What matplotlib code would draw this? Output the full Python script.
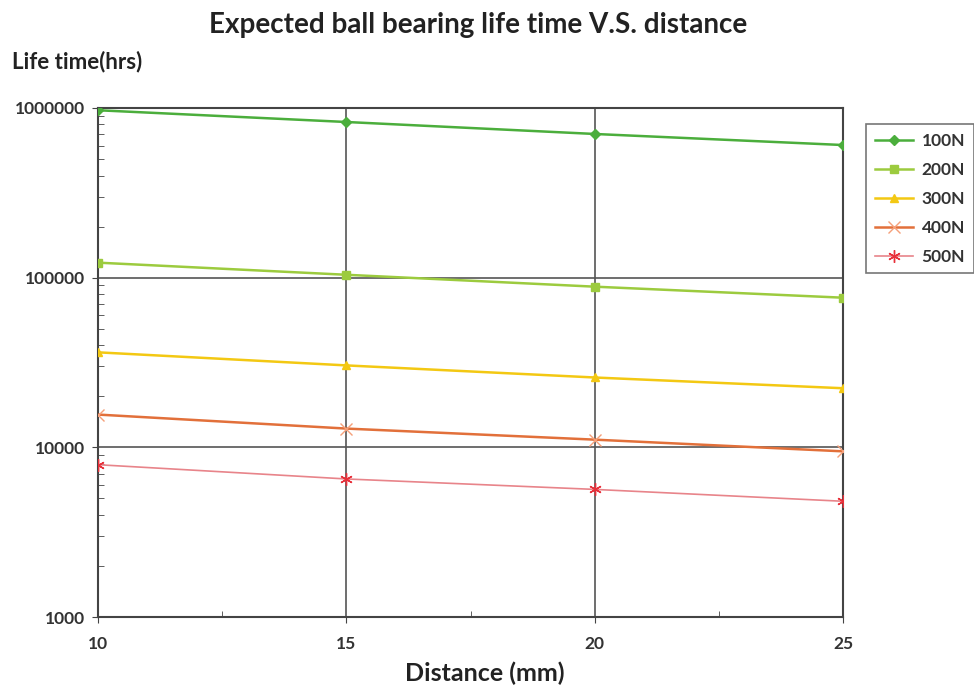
import matplotlib
matplotlib.use("Agg")
import matplotlib.pyplot as plt
from matplotlib.ticker import FixedLocator, NullFormatter, LogLocator

plt.rcParams['font.family'] = ['Lato', 'DejaVu Sans']

distance = [10, 15, 20, 25]
life_100n = [970000, 827000, 703000, 605000]
life_200n = [122600, 104000, 88500, 76200]
life_300n = [36300, 30400, 25800, 22300]
life_400n = [15600, 12900, 11100, 9470]
life_500n = [7900, 6510, 5650, 4810]

series = [
    ("100N", life_100n, "#4bae3c", "D", "#4bae3c", 5),
    ("200N", life_200n, "#9ccb3e", "s", "#9ccb3e", 6),
    ("300N", life_300n, "#f3c813", "^", "#f3c813", 6),
    ("400N", life_400n, "#e2703a", "x", "#f5a07a", 8),
    ("500N", life_500n, "#e8848a", (6, 2, 0), "#e8303a", 9),
]

fig = plt.figure(figsize=(9.74, 6.91), dpi=100)
ax = fig.add_axes([98 / 974, 1 - 617 / 691, (843 - 98) / 974, (617 - 108) / 691])

for name, vals, col, mk, mcol, ms in series:
    lw = 1.2 if name == "500N" else 1.8
    ax.plot(distance, vals, color=col, lw=lw, marker=mk, markersize=ms,
            markerfacecolor=mcol, markeredgecolor=mcol, label=name, zorder=3)

ax.set_yscale("log")
ax.set_ylim(1000, 1000000)
ax.set_xlim(10, 25)
ax.xaxis.set_major_locator(FixedLocator([10, 15, 20, 25]))
ax.xaxis.set_minor_locator(FixedLocator([12.5, 17.5, 22.5]))
ax.yaxis.set_major_locator(FixedLocator([1000, 10000, 100000, 1000000]))
ax.yaxis.set_minor_locator(LogLocator(base=10, subs=range(2, 10)))
ax.yaxis.set_minor_formatter(NullFormatter())
ax.set_yticklabels(["1000", "10000", "100000", "1000000"])

ax.grid(True, which="major", color="#555555", lw=1.2)
ax.tick_params(which="major", direction="out", length=4, color="#444444",
               labelsize=12.5, pad=5)
ax.tick_params(axis="x", which="major", pad=10)
ax.tick_params(which="minor", direction="in", length=4, color="#444444")
for lab in ax.get_xticklabels() + ax.get_yticklabels():
    lab.set_fontweight("bold")
    lab.set_color("#333333")
for s in ax.spines.values():
    s.set_color("#444444")
    s.set_linewidth(1.5)

fig.text(478 / 974, 1 - 25 / 691, "Expected ball bearing life time V.S. distance",
         ha="center", va="center", fontsize=20, fontweight="bold", color="#222222")
fig.text(12 / 974, 1 - 62 / 691, "Life time(hrs)", ha="left", va="center",
         fontsize=16, fontweight="bold", color="#222222")
fig.text(485 / 974, 1 - 673 / 691, "Distance (mm)", ha="center", va="center",
         fontsize=18, fontweight="bold", color="#222222")

leg = fig.legend(loc="upper left", bbox_to_anchor=(866 / 974, 1 - 124 / 691),
                 frameon=True, fancybox=False, edgecolor="#555555",
                 fontsize=12.5, handlelength=2.2, handletextpad=0.5,
                 labelspacing=0.75, borderaxespad=0, borderpad=0.5)
leg.get_frame().set_linewidth(1.2)
for t in leg.get_texts():
    t.set_fontweight("bold")
    t.set_color("#333333")

fig.savefig("out.png", dpi=100)
